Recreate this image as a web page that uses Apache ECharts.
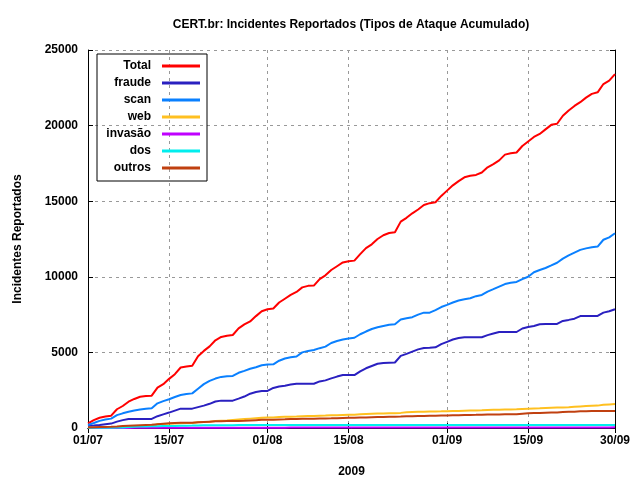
<!DOCTYPE html>
<html>
<head>
<meta charset="utf-8">
<script src="https://cdn.jsdelivr.net/npm/echarts@6/dist/echarts.min.js"></script>
<style>
  html, body { margin: 0; padding: 0; background: #fff; }
  #main { width: 640px; height: 480px; }
</style>
</head>
<body>
<div id="main"></div>
<script>
// dias de 01/07/2009 a 30/09/2009
var days = [];
var months = [["07", 31], ["08", 31], ["09", 30]];
months.forEach(function (m) {
  for (var d = 1; d <= m[1]; d++) {
    days.push((d < 10 ? "0" + d : "" + d) + "/" + m[0]);
  }
});
var tickDays = ["01/07", "15/07", "01/08", "15/08", "01/09", "15/09", "30/09"];

var total = [300, 520, 680, 760, 815, 1240, 1455, 1740, 1920, 2070, 2110, 2140,
  2670, 2900, 3250, 3560, 4000, 4060, 4120, 4750, 5100, 5400, 5800, 6020, 6100, 6150,
  6590, 6850, 7050, 7400, 7720, 7850, 7900, 8300, 8550, 8800, 9000, 9300, 9400, 9420,
  9850, 10100, 10450, 10700, 10950, 11030, 11070, 11500, 11900, 12150, 12500, 12750,
  12900, 12950, 13650, 13900, 14200, 14450, 14750, 14870, 14930, 15350, 15700, 16050,
  16330, 16580, 16680, 16740, 16900, 17240, 17450, 17700, 18080, 18170, 18220, 18650,
  18950, 19250, 19450, 19750, 20050, 20120, 20650, 21000, 21300, 21550, 21850, 22100,
  22200, 22750, 22970, 23410];
var fraude = [130, 160, 200, 250, 290, 420, 520, 590, 600, 600, 600, 600,
  780, 900, 1020, 1150, 1280, 1280, 1280, 1380, 1480, 1600, 1750, 1810, 1810, 1810,
  1940, 2080, 2270, 2380, 2450, 2450, 2650, 2750, 2800, 2870, 2930, 2930, 2930, 2930,
  3080, 3150, 3280, 3400, 3500, 3500, 3500, 3750, 3950, 4100, 4250, 4300, 4320, 4330,
  4770, 4900, 5050, 5200, 5290, 5310, 5340, 5550, 5700, 5850, 5950, 6000, 6000, 6000,
  6000, 6140, 6250, 6350, 6350, 6350, 6350, 6580, 6680, 6750, 6860, 6880, 6880, 6880,
  7080, 7150, 7230, 7400, 7410, 7410, 7410, 7630, 7720, 7850];
var scan = [200, 330, 470, 560, 620, 850, 970, 1080, 1160, 1230, 1270, 1300,
  1630, 1780, 1900, 2050, 2180, 2250, 2290, 2600, 2900, 3120, 3270, 3380, 3420, 3440,
  3650, 3780, 3920, 4020, 4150, 4200, 4210, 4450, 4600, 4680, 4730, 5000, 5100, 5160,
  5280, 5380, 5620, 5750, 5850, 5920, 5970, 6200, 6380, 6550, 6660, 6750, 6830, 6860,
  7170, 7260, 7330, 7500, 7630, 7630, 7800, 8000, 8140, 8300, 8430, 8520, 8580, 8720,
  8800, 9020, 9180, 9350, 9520, 9600, 9660, 9850, 10000, 10300, 10450, 10580, 10750,
  10930, 11200, 11420, 11600, 11780, 11880, 11960, 12000, 12450, 12610, 12880];
var web = [10, 20, 30, 35, 40, 50, 60, 70, 80, 90, 95, 100,
  260, 270, 280, 300, 320, 330, 335, 380, 400, 420, 460, 480, 490, 530,
  560, 590, 620, 650, 680, 690, 700, 720, 740, 750, 760, 780, 790, 790,
  810, 820, 840, 850, 860, 870, 880, 910, 925, 940, 955, 965, 975, 980,
  1000, 1040, 1060, 1070, 1080, 1090, 1095, 1100, 1110, 1120, 1130, 1140, 1150, 1160,
  1170, 1185, 1200, 1210, 1220, 1230, 1240, 1260, 1280, 1290, 1300, 1320, 1340, 1350,
  1360, 1370, 1400, 1430, 1450, 1470, 1480, 1530, 1560, 1590];
var invasao = [2, 3, 4, 5, 5, 6, 7, 8, 9, 10, 10, 10,
  11, 12, 13, 14, 15, 15, 15, 16, 17, 18, 19, 20, 20, 20,
  21, 21, 22, 22, 23, 23, 23, 24, 24, 25, 25, 26, 26, 26,
  27, 27, 28, 28, 29, 29, 29, 30, 30, 30, 31, 31, 31, 31,
  32, 32, 32, 33, 33, 33, 33, 34, 34, 34, 35, 35, 35, 35,
  36, 36, 36, 37, 37, 37, 37, 38, 38, 38, 38, 39, 39, 39,
  39, 40, 40, 40, 40, 40, 40, 41, 41, 42];
var dos = [5, 10, 15, 18, 20, 30, 40, 60, 80, 100, 105, 110,
  120, 125, 130, 140, 150, 155, 160, 170, 175, 180, 185, 188, 190, 190,
  191, 192, 192, 193, 193, 194, 194, 194, 195, 195, 195, 196, 196, 196,
  196, 197, 197, 197, 197, 198, 198, 198, 198, 198, 199, 199, 199, 199,
  199, 200, 200, 200, 200, 200, 200, 200, 201, 201, 201, 201, 201, 201,
  201, 202, 202, 202, 202, 202, 202, 202, 203, 203, 203, 203, 203, 203,
  203, 204, 204, 204, 204, 204, 204, 205, 205, 205];
var outros = [40, 50, 60, 70, 80, 100, 130, 150, 170, 190, 200, 210,
  250, 280, 310, 330, 340, 345, 350, 380, 400, 420, 440, 450, 455, 460,
  470, 480, 500, 520, 540, 545, 550, 565, 575, 590, 600, 610, 615, 620,
  630, 635, 640, 650, 660, 670, 675, 690, 700, 710, 720, 730, 740, 745,
  755, 770, 780, 790, 800, 805, 810, 820, 830, 840, 850, 860, 865, 870,
  880, 890, 895, 900, 905, 905, 910, 950, 980, 990, 1000, 1010, 1020, 1030,
  1060, 1070, 1080, 1100, 1110, 1120, 1125, 1125, 1125, 1130];

var names = ["Total", "fraude", "scan", "web", "invasão", "dos", "outros"];
var values = [total, fraude, scan, web, invasao, dos, outros];
var colors = ["#ff0000", "#2a20c0", "#0a80ff", "#ffc020", "#c000ff", "#00eeee", "#c04010"];

var font = "Liberation Sans, Arial, sans-serif";
function showTick(index, value) {
  return tickDays.indexOf(value) >= 0;
}

var chartDom = document.getElementById("main");
var myChart = echarts.init(chartDom);
var option;

option = {
  animation: false,
  backgroundColor: "#fff",
  title: {
    text: "CERT.br: Incidentes Reportados (Tipos de Ataque Acumulado)",
    left: 346,
    top: 14,
    textAlign: "center",
    textStyle: { fontFamily: font, fontSize: 12, fontWeight: "bold", color: "#000" },
  },
  legend: {
    orient: "vertical",
    left: 97,
    top: 54,
    align: "right",
    icon: "rect",
    itemWidth: 38,
    itemHeight: 3,
    itemGap: 3,
    padding: [5, 7, 6, 4],
    borderColor: "#000",
    borderWidth: 1,
    data: names,
    formatter: "{a|{name}}",
    textStyle: {
      fontFamily: font,
      fontSize: 12,
      fontWeight: "bold",
      color: "#000",
      rich: {
        a: { width: 50, height: 14, align: "right", lineHeight: 14, padding: [0, 6, 0, 0],
             fontFamily: font, fontSize: 12, fontWeight: "bold", color: "#000" },
      },
    },
  },
  grid: { left: 88, right: 25, top: 50, bottom: 52, outerBoundsMode: "none", containLabel: false },
  xAxis: [
    {
      type: "category",
      data: days,
      boundaryGap: false,
      name: "2009",
      nameLocation: "middle",
      nameGap: 38,
      nameTextStyle: { fontFamily: font, fontSize: 12, fontWeight: "bold", color: "#000" },
      axisLine: { lineStyle: { color: "#000", width: 1 } },
      axisTick: { inside: true, length: 5, interval: showTick, lineStyle: { color: "#000" } },
      axisLabel: { interval: showTick, margin: 7, fontFamily: font, fontSize: 12,
                   fontWeight: "bold", color: "#000" },
      splitLine: { show: true, interval: showTick,
                   lineStyle: { color: "#999", type: [3, 4], width: 1 } },
    },
    {
      type: "category",
      data: days,
      boundaryGap: false,
      position: "top",
      axisLine: { lineStyle: { color: "#000", width: 1 } },
      axisTick: { inside: true, length: 5, interval: showTick, lineStyle: { color: "#000" } },
      axisLabel: { show: false },
      splitLine: { show: false },
    },
  ],
  yAxis: [
    {
      type: "value",
      min: 0,
      max: 25000,
      interval: 5000,
      name: "Incidentes Reportados",
      nameLocation: "middle",
      nameGap: 64,
      nameTextStyle: { fontFamily: font, fontSize: 12, fontWeight: "bold", color: "#000" },
      axisLine: { show: true, lineStyle: { color: "#000", width: 1 } },
      axisTick: { show: true, inside: true, length: 5, lineStyle: { color: "#000" } },
      axisLabel: { margin: 10, fontFamily: font, fontSize: 12, fontWeight: "bold", color: "#000",
                   formatter: function (v) { return String(v); } },
      splitLine: { show: true, lineStyle: { color: "#999", type: [3, 4], width: 1 } },
    },
    {
      type: "value",
      min: 0,
      max: 25000,
      interval: 5000,
      position: "right",
      axisLine: { show: true, lineStyle: { color: "#000", width: 1 } },
      axisTick: { show: true, inside: true, length: 5, lineStyle: { color: "#000" } },
      axisLabel: { show: false },
      splitLine: { show: false },
    },
  ],
  series: names.map(function (n, i) {
    return {
      name: n,
      type: "line",
      data: values[i],
      xAxisIndex: 0,
      yAxisIndex: 0,
      symbol: "none",
      color: colors[i],
      lineStyle: { width: 2, color: colors[i] },
    };
  }),
};

option && myChart.setOption(option);
</script>
</body>
</html>
